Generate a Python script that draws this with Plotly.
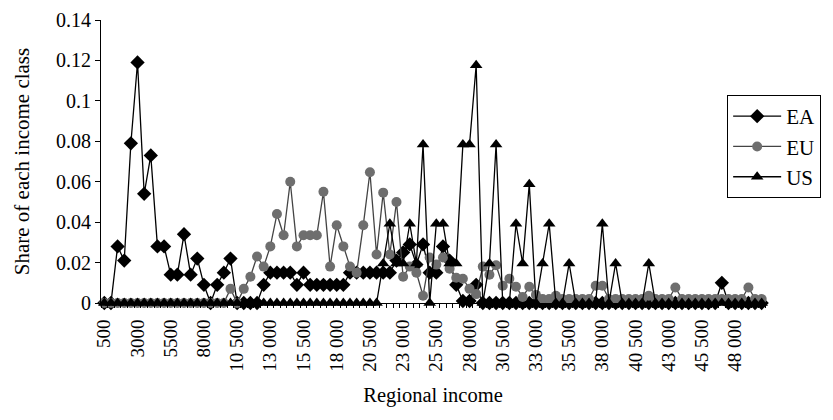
import plotly.graph_objects as go

# income classes (x categories), one every 500
income = list(range(500, 50001, 500))
tick_vals = [500, 3000, 5500, 8000, 10500, 13000, 15500, 18000, 20500, 23000,
             25500, 28000, 30500, 33000, 35500, 38000, 40500, 43000, 45500, 48000]
tick_text = ["500", "3000", "5500", "8000", "10 500", "13 000", "15 500", "18 000",
             "20 500", "23 000", "25 500", "28 000", "30 500", "33 000", "35 500",
             "38 000", "40 500", "43 000", "45 500", "48 000"]

# share of each income class
ea = [0, 0, 0.028, 0.021, 0.079, 0.119, 0.054, 0.073, 0.028, 0.028,
      0.014, 0.014, 0.034, 0.014, 0.022, 0.009, 0, 0.009, 0.015, 0.022,
      0, 0, 0, 0, 0.009, 0.015, 0.015, 0.015, 0.015, 0.009,
      0.015, 0.009, 0.009, 0.009, 0.009, 0.009, 0.009, 0.015, 0.015, 0.015,
      0.015, 0.015, 0.015, 0.015, 0.021, 0.025, 0.029, 0.019, 0.029, 0.015,
      0.015, 0.028, 0.021, 0.009, 0.001, 0.001, 0.009, 0, 0, 0,
      0, 0, 0, 0, 0, 0, 0, 0, 0, 0,
      0, 0, 0, 0, 0, 0, 0, 0, 0, 0,
      0, 0, 0, 0, 0, 0, 0, 0, 0, 0,
      0, 0, 0, 0.01, 0, 0, 0, 0, 0, 0]

eu = [0, 0, 0, 0, 0, 0, 0, 0, 0, 0,
      0, 0, 0, 0, 0, 0, 0, 0, 0, 0.007,
      0, 0.007, 0.013, 0.023, 0.018, 0.028, 0.044, 0.0335, 0.06, 0.028,
      0.0335, 0.0335, 0.0335, 0.055, 0.018, 0.0385, 0.028, 0.018, 0.015, 0.0385,
      0.0647, 0.024, 0.0546, 0.024, 0.05, 0.013, 0.018, 0.015, 0.0036, 0.0225,
      0.019, 0.0225, 0.017, 0.0125, 0.012, 0.007, 0.0044, 0.018, 0.014, 0.0187,
      0.0085, 0.012, 0.008, 0.003, 0.008, 0.004, 0.002, 0.002, 0.0036, 0.002,
      0.002, 0.002, 0.002, 0.002, 0.0085, 0.0085, 0.002, 0.002, 0.002, 0.002,
      0.002, 0.002, 0.0036, 0.002, 0.002, 0.002, 0.0077, 0.002, 0.002, 0.002,
      0.002, 0.002, 0.002, 0.002, 0.002, 0.002, 0.002, 0.0077, 0.002, 0.002]

us = [0, 0, 0, 0, 0, 0, 0, 0, 0, 0,
      0, 0, 0, 0, 0, 0, 0, 0, 0, 0,
      0, 0, 0, 0, 0, 0, 0, 0, 0, 0,
      0, 0, 0, 0, 0, 0, 0, 0, 0, 0,
      0, 0, 0.0196, 0.0392, 0.0196, 0.0196, 0.0392, 0.0196, 0.0784, 0,
      0.0392, 0.0392, 0.0196, 0.0196, 0.0784, 0.0784, 0.1176, 0, 0.0196, 0.0784,
      0, 0, 0.0392, 0.0196, 0.0588, 0, 0.0196, 0.0392, 0, 0,
      0.0196, 0, 0, 0, 0, 0.0392, 0, 0.0196, 0, 0,
      0, 0, 0.0196, 0, 0, 0, 0, 0, 0, 0,
      0, 0, 0, 0, 0, 0, 0, 0, 0, 0]

FONT = "Liberation Serif"

fig = go.Figure()
fig.add_trace(go.Scatter(
    x=income, y=ea, name="EA", mode="lines+markers", cliponaxis=False,
    line=dict(color="black", width=1.3),
    marker=dict(symbol="diamond", size=11, color="black")))
fig.add_trace(go.Scatter(
    x=income, y=eu, name="EU", mode="lines+markers", cliponaxis=False,
    line=dict(color="#444444", width=1.3),
    marker=dict(symbol="circle", size=10, color="#6e6e6e")))
fig.add_trace(go.Scatter(
    x=income, y=us, name="US", mode="lines+markers", cliponaxis=False,
    line=dict(color="black", width=1.3),
    marker=dict(symbol="triangle-up", size=11, color="black")))

fig.update_layout(
    width=833, height=420,
    margin=dict(l=93, r=76, t=12, b=125),
    paper_bgcolor="white", plot_bgcolor="white",
    font=dict(family=FONT, color="black", size=20),
    showlegend=True,
    legend=dict(x=0.943, y=0.735, xanchor="left", yanchor="top",
                bordercolor="black", borderwidth=1, bgcolor="white",
                font=dict(family=FONT, size=21), tracegroupgap=4,
                itemwidth=48, traceorder="normal"),
)
fig.update_xaxes(
    automargin=False,
    range=[250, 50250], tickmode="array", tickvals=tick_vals, ticktext=tick_text,
    tickangle=-90, ticks="outside", ticklen=8, tickcolor="rgba(0,0,0,0)",
    showline=True, linecolor="black", linewidth=1,
    showgrid=False, zeroline=False, tickfont=dict(family=FONT, size=19),
    minor=dict(ticks="outside", ticklen=4, tickcolor="black", tickmode="linear",
               tick0=250, dtick=500, showgrid=False),
    title=dict(text="Regional income", font=dict(family=FONT, size=20.5), standoff=16))
fig.update_yaxes(
    automargin=False,
    range=[0, 0.14], tick0=0, dtick=0.02, ticks="outside", ticklen=5,
    tickcolor="black", showline=True, linecolor="black", linewidth=1,
    showgrid=False, zeroline=False, tickfont=dict(family=FONT, size=20),
    title=dict(text="Share of each income class", font=dict(family=FONT, size=21),
               standoff=20))

fig.write_html("out.html")
